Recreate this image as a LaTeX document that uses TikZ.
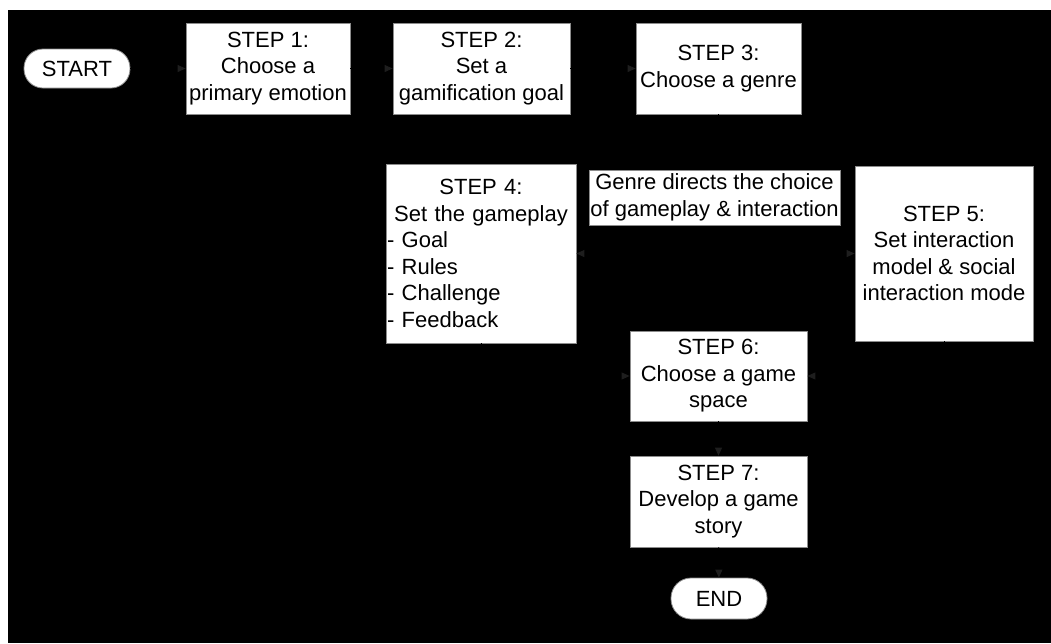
\documentclass[tikz,border=0pt]{standalone}
\usepackage{fontspec}
\setmainfont{Liberation Sans}
\usetikzlibrary{arrows.meta}
\definecolor{tipgray}{RGB}{30,30,30}
\definecolor{edgegray}{RGB}{140,140,140}
\begin{document}
\begin{tikzpicture}[x=1pt,y=-1pt,
  stepbox/.style={draw=edgegray, line width=0.8pt, fill=white, align=center, inner sep=1pt,
    font=\fontsize{22}{26.5}\selectfont},
  termbox/.style={stepbox, rounded corners=19pt},
  conn/.style={draw=black, line width=1pt, -{Triangle[length=8pt,width=7pt,color=tipgray]}},
  plainline/.style={draw=black, line width=1pt},
]
\useasboundingbox (0,0) rectangle (1051,643);
\fill[white] (0,0) rectangle (1051,643);
\fill[black] (8,10) rectangle (1051,643);

\node[termbox, minimum width=106pt, minimum height=39pt] (start) at (77,68.5) {START};
\node[stepbox, minimum width=164pt, minimum height=91pt] (s1) at (268,68.5) {STEP 1:\\Choose a\\primary emotion};
\node[stepbox, minimum width=177pt, minimum height=91pt] (s2) at (481.5,68.5) {STEP 2:\\Set a\\gamification goal};
\node[stepbox, minimum width=165pt, minimum height=91pt] (s3) at (718.5,68.5) {STEP 3:\\Choose a genre};
\node[stepbox, text width=188pt, minimum height=179pt, align=left] (s4) at (481,253.5)
  {\parindent=0pt\centering STEP 4:\\Set the gameplay\par\raggedright - Goal\\- Rules\\- Challenge\\- Feedback\par};
\node[stepbox, minimum width=178pt, minimum height=175pt] (s5) at (944,253.5) {STEP 5:\\Set interaction\\model \& social\\interaction mode};
\node[stepbox, minimum width=177pt, minimum height=90pt] (s6) at (718.5,376) {STEP 6:\\Choose a game\\space};
\node[stepbox, minimum width=177pt, minimum height=91pt] (s7) at (718.5,501.5) {STEP 7:\\Develop a game\\story};
\node[termbox, minimum width=96pt, minimum height=41pt, rounded corners=20pt] (fin) at (719,598.5) {END};

\coordinate (j) at (718.5,254);

\draw[conn] (start) -- (s1);
\draw[conn] (s1) -- (s2);
\draw[conn] (s2) -- (s3);
\draw[plainline] (s3.south) -- (j);

\node[stepbox, minimum width=251pt, minimum height=55pt] (genre) at (714.5,197.5) {Genre directs the choice\\of gameplay \& interaction};

\draw[conn] (j) -- (s4.east);
\draw[conn] (j) -- (s5.west);
\draw[conn] (s4.south) |- (s6.west);
\draw[conn] (s5.south) |- (s6.east);
\draw[conn] (s6) -- (s7);
\draw[conn] (s7) -- (fin);
\end{tikzpicture}
\end{document}
